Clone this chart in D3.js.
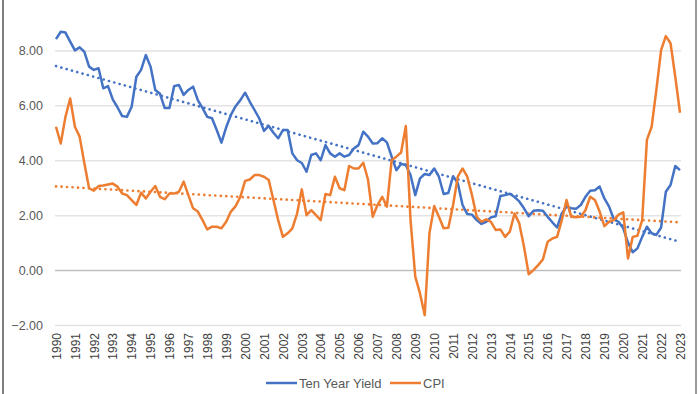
<!DOCTYPE html>
<html>
<head>
<meta charset="utf-8">
<script src="https://cdn.jsdelivr.net/npm/d3@7"></script>
<style>
	html, body { margin: 0; padding: 0; background: #fff; }
	#chart { width: 700px; height: 394px; }
	text { font-family: 'Liberation Sans', Arial, sans-serif; fill: #595959; }
</style>
</head>
<body>
<div id="chart"></div>
<script>

// quarterly readings, 1990 Q1 .. 2023 Q1
const years = d3.range(1990, 2024);

const tenYearYield = [
	8.41, 8.68, 8.65, 8.32, 8.00, 8.11, 7.95, 7.41, 7.29, 7.35, 6.62, 6.70,
	6.22, 5.93, 5.61, 5.58, 5.95, 7.04, 7.29, 7.83, 7.41, 6.56, 6.42, 5.90,
	5.90, 6.70, 6.74, 6.38, 6.56, 6.68, 6.19, 5.90, 5.58, 5.53, 5.10, 4.64,
	5.20, 5.65, 5.97, 6.19, 6.46, 6.13, 5.83, 5.52, 5.07, 5.25, 5.00, 4.80,
	5.10, 5.10, 4.25, 4.00, 3.90, 3.58, 4.19, 4.25, 4.00, 4.55, 4.25, 4.13,
	4.25, 4.13, 4.19, 4.43, 4.55, 5.04, 4.86, 4.61, 4.62, 4.80, 4.65, 4.13,
	3.64, 3.86, 3.83, 3.46, 2.73, 3.34, 3.50, 3.46, 3.70, 3.40, 2.77, 2.81,
	3.42, 3.16, 2.37, 2.04, 2.02, 1.82, 1.68, 1.76, 1.92, 1.96, 2.70, 2.73,
	2.78, 2.66, 2.50, 2.25, 1.96, 2.16, 2.18, 2.16, 1.94, 1.74, 1.55, 2.06,
	2.31, 2.25, 2.23, 2.37, 2.67, 2.89, 2.91, 3.04, 2.61, 2.31, 1.85, 1.76,
	1.52, 1.00, 0.65, 0.79, 1.21, 1.58, 1.34, 1.28, 1.55, 2.85, 3.10, 3.79,
	3.64
];

const cpi = [
	5.22, 4.61, 5.58, 6.25, 5.22, 4.86, 3.89, 2.98, 2.89, 3.06, 3.08, 3.12,
	3.15, 3.04, 2.79, 2.73, 2.55, 2.37, 2.82, 2.61, 2.85, 3.06, 2.67, 2.58,
	2.79, 2.79, 2.85, 3.22, 2.73, 2.25, 2.13, 1.82, 1.48, 1.58, 1.58, 1.52,
	1.76, 2.13, 2.33, 2.67, 3.25, 3.30, 3.46, 3.46, 3.40, 3.28, 2.55, 1.82,
	1.21, 1.34, 1.52, 2.06, 2.94, 2.00, 2.18, 2.00, 1.82, 2.77, 2.73, 3.40,
	2.98, 2.91, 3.79, 3.70, 3.70, 3.91, 3.30, 1.94, 2.37, 2.67, 2.31, 4.00,
	4.13, 4.28, 5.25, 1.82, -0.24, -0.85, -1.64, 1.34, 2.33, 1.94, 1.52, 1.54,
	2.37, 3.40, 3.70, 3.40, 2.73, 1.94, 1.76, 1.85, 1.76, 1.46, 1.48, 1.21,
	1.40, 2.06, 1.70, 0.85, -0.15, 0.00, 0.18, 0.39, 1.03, 1.15, 1.21, 1.82,
	2.55, 1.94, 1.92, 1.94, 2.18, 2.67, 2.55, 2.13, 1.60, 1.76, 1.82, 2.02,
	2.10, 0.42, 1.21, 1.25, 1.82, 4.74, 5.22, 6.56, 8.01, 8.52, 8.26, 7.04,
	5.73
];

// dotted linear trendlines, start and end values
const tenYearTrend = [7.43, 1.03];
const cpiTrend = [3.05, 1.74];

const yTicks = [-2, 0, 2, 4, 6, 8, 10];

const seriesNames = ['Ten Year Yield', 'CPI'];
const seriesColors = ['#4472C4', '#ED7D31'];

// ----------------------------------
// SVG + SCALES
// ----------------------------------

const width = 700,
	height = 394;

const svg = d3.select('#chart')
	.append('svg')
	.attr('width', width)
	.attr('height', height);

const xScale = d3.scaleLinear()
	.domain([0, tenYearYield.length - 1])
	.range([56, 680]);

const yScale = d3.scaleLinear()
	.domain([-2, 10])
	.range([325, -4.5]);

// frame edges of the screenshot
svg.append('line')
	.attr('x1', 3).attr('x2', 3).attr('y1', 0).attr('y2', height)
	.style('stroke', '#7f7f7f').style('stroke-width', 2);
svg.append('line')
	.attr('x1', 696).attr('x2', 696).attr('y1', 0).attr('y2', height)
	.style('stroke', '#9a9a9a').style('stroke-width', 2);

// ----------------------------------
// AXES
// ----------------------------------

const yAxis = svg.append('g')
	.attr('class', 'y axis')
	.attr('transform', 'translate(55,0)')
	.call(d3.axisLeft(yScale).tickValues(yTicks).tickFormat(d3.format('.2f')).tickSize(0).tickPadding(12));

yAxis.select('.domain').remove();
yAxis.selectAll('.tick text')
	.style('font-size', '12.5px')
	.style('fill', '#595959');
yAxis.selectAll('.tick line')
	.attr('x2', 626)
	.style('stroke', d => d === 0 ? '#bfbfbf' : '#e3e3e3')
	.style('stroke-width', 1.5);

const xAxis = svg.append('g')
	.attr('class', 'x axis')
	.attr('transform', 'translate(0,331)')
	.call(d3.axisBottom(xScale)
		.tickValues(years.map((y, i) => i * 4))
		.tickFormat((d, i) => years[i])
		.tickSize(0));

xAxis.select('.domain').remove();
xAxis.selectAll('.tick text')
	.attr('transform', 'rotate(-90)')
	.attr('text-anchor', 'end')
	.attr('x', -2)
	.attr('y', 0)
	.attr('dy', '0.35em')
	.style('font-size', '12px')
	.style('fill', '#404040');

// ----------------------------------
// LINES + TRENDLINES
// ----------------------------------

const line = d3.line()
	.x((d, i) => xScale(i))
	.y(d => yScale(d));

const lastIdx = tenYearYield.length - 1;

[tenYearTrend, cpiTrend].forEach((ends, k) => {
	svg.append('path')
		.datum(ends)
		.attr('d', d3.line().x((d, i) => xScale(i * lastIdx)).y(d => yScale(d)))
		.attr('fill', 'none')
		.attr('stroke', seriesColors[k])
		.attr('stroke-width', 2.6)
		.attr('stroke-dasharray', '0.1 5.4')
		.attr('stroke-linecap', 'round');
});

[tenYearYield, cpi].forEach((values, k) => {
	svg.append('path')
		.datum(values)
		.attr('d', line)
		.attr('fill', 'none')
		.attr('stroke', seriesColors[k])
		.attr('stroke-width', 2.5)
		.style('stroke-linejoin', 'round');
});

// ----------------------------------
// LEGEND
// ----------------------------------

const legend = svg.append('g')
	.attr('transform', 'translate(266,383)');

const legendX = [0, 124];
seriesNames.forEach((name, k) => {
	legend.append('line')
		.attr('x1', legendX[k]).attr('x2', legendX[k] + 31)
		.attr('y1', 0).attr('y2', 0)
		.attr('stroke', seriesColors[k])
		.attr('stroke-width', 2.5);
	legend.append('text')
		.attr('x', legendX[k] + 33)
		.attr('y', 0)
		.attr('dy', '0.35em')
		.style('font-size', '13px')
		.text(name);
});

</script>
</body>
</html>
